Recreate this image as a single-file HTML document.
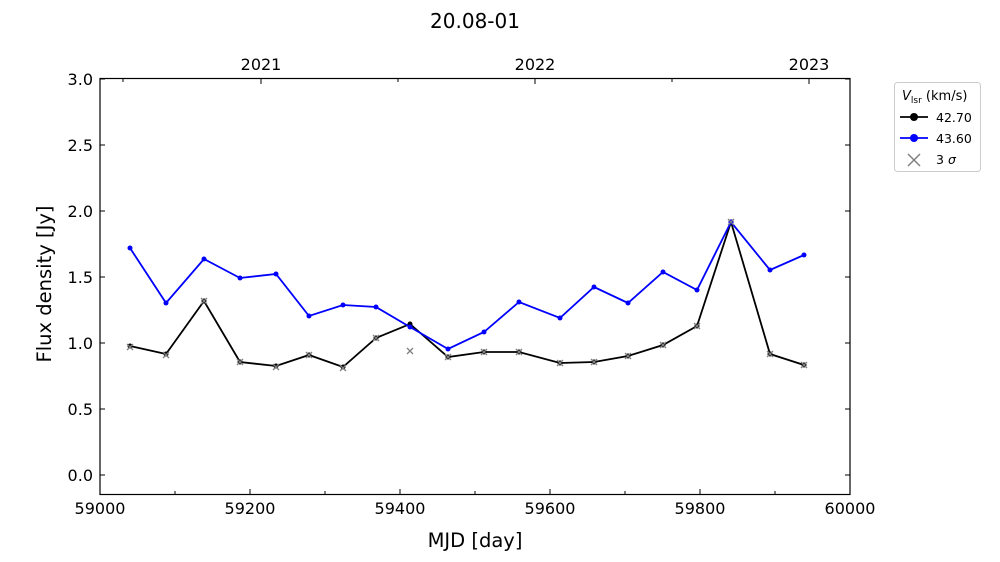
<!DOCTYPE html>
<html><head><meta charset="utf-8"><style>body{margin:0;background:#fff}svg{display:block}</style></head><body>
<svg width="1000" height="562" xmlns="http://www.w3.org/2000/svg" font-family="'DejaVu Sans',sans-serif">
<rect width="1000" height="562" fill="#fff"/>
<text x="475" y="28" font-size="20" text-anchor="middle">20.08-01</text>
<rect x="100" y="78.5" width="750" height="416" fill="none" stroke="#000" stroke-width="1.2"/>
<g stroke="#000" stroke-width="1">
<path d="M250 494v-5M400 494v-5M550 494v-5M700 494v-5M175 494v-3M325 494v-3M475 494v-3M625 494v-3M775 494v-3"/>
<path d="M100 475h5M100 409h5M100 343h5M100 277h5M100 211h5M100 145h5M100 79h5M850 475h-5M850 409h-5M850 343h-5M850 277h-5M850 211h-5M850 145h-5M850 79h-5"/>
<path d="M261 79v5M535 79v5M809 79v5M123 79v3M398 79v3M672 79v3"/>
</g>
<g font-size="16" text-anchor="middle">
<text x="100" y="514">59000</text><text x="250" y="514">59200</text><text x="400" y="514">59400</text><text x="550" y="514">59600</text><text x="700" y="514">59800</text><text x="850" y="514">60000</text>
<text x="261" y="70">2021</text><text x="535" y="70">2022</text><text x="809" y="70">2023</text>
</g>
<g font-size="16" text-anchor="end">
<text x="93" y="481">0.0</text><text x="93" y="415">0.5</text><text x="93" y="349">1.0</text><text x="93" y="283">1.5</text><text x="93" y="217">2.0</text><text x="93" y="151">2.5</text><text x="93" y="85">3.0</text>
</g>
<text x="475" y="547" font-size="19.5" text-anchor="middle">MJD [day]</text>
<text transform="translate(51,284) rotate(-90)" font-size="19.5" text-anchor="middle">Flux density [Jy]</text>
<polyline fill="none" stroke="#000" stroke-width="1.8" points="130,346 166,354 204,301 240,362 276,366 309,355 343,367 376,338 410,324 448,357 484,352 519,352 560,363 594,362 628,356 663,345 697,326 731,222 770,354 804,365"/>
<g fill="#000"><circle cx="130" cy="346" r="2.5"/><circle cx="166" cy="354" r="2.5"/><circle cx="204" cy="301" r="2.5"/><circle cx="240" cy="362" r="2.5"/><circle cx="276" cy="366" r="2.5"/><circle cx="309" cy="355" r="2.5"/><circle cx="343" cy="367" r="2.5"/><circle cx="376" cy="338" r="2.5"/><circle cx="410" cy="324" r="2.5"/><circle cx="448" cy="357" r="2.5"/><circle cx="484" cy="352" r="2.5"/><circle cx="519" cy="352" r="2.5"/><circle cx="560" cy="363" r="2.5"/><circle cx="594" cy="362" r="2.5"/><circle cx="628" cy="356" r="2.5"/><circle cx="663" cy="345" r="2.5"/><circle cx="697" cy="326" r="2.5"/><circle cx="731" cy="222" r="2.5"/><circle cx="770" cy="354" r="2.5"/><circle cx="804" cy="365" r="2.5"/></g>
<polyline fill="none" stroke="#0000ff" stroke-width="1.8" points="130,248 166,303 204,259 240,278 276,274 309,316 343,305 376,307 410,327 448,349 484,332 519,302 560,318 594,287 628,303 663,272 697,290 731,222 770,270 804,255"/>
<g fill="#0000ff"><circle cx="130" cy="248" r="2.5"/><circle cx="166" cy="303" r="2.5"/><circle cx="204" cy="259" r="2.5"/><circle cx="240" cy="278" r="2.5"/><circle cx="276" cy="274" r="2.5"/><circle cx="309" cy="316" r="2.5"/><circle cx="343" cy="305" r="2.5"/><circle cx="376" cy="307" r="2.5"/><circle cx="410" cy="327" r="2.5"/><circle cx="448" cy="349" r="2.5"/><circle cx="484" cy="332" r="2.5"/><circle cx="519" cy="302" r="2.5"/><circle cx="560" cy="318" r="2.5"/><circle cx="594" cy="287" r="2.5"/><circle cx="628" cy="303" r="2.5"/><circle cx="663" cy="272" r="2.5"/><circle cx="697" cy="290" r="2.5"/><circle cx="731" cy="222" r="2.5"/><circle cx="770" cy="270" r="2.5"/><circle cx="804" cy="255" r="2.5"/></g>
<g stroke="#808080" stroke-width="1.3">
<path d="M407 348l6 6M413 348l-6 6"/>
<path d="M127 344l6 6M133 344l-6 6M163 352l6 6M169 352l-6 6M201 298l6 6M207 298l-6 6M237 359l6 6M243 359l-6 6M273 364l6 6M279 364l-6 6M306 352l6 6M312 352l-6 6M340 365l6 6M346 365l-6 6M373 335l6 6M379 335l-6 6M445 354l6 6M451 354l-6 6M481 349l6 6M487 349l-6 6M516 349l6 6M522 349l-6 6M557 360l6 6M563 360l-6 6M591 359l6 6M597 359l-6 6M625 353l6 6M631 353l-6 6M660 342l6 6M666 342l-6 6M694 323l6 6M700 323l-6 6M728 219l6 6M734 219l-6 6M767 351l6 6M773 351l-6 6M801 362l6 6M807 362l-6 6"/>
</g>
<rect x="894.5" y="82.5" width="86" height="89" rx="3" fill="#fff" stroke="#ccc"/>
<text x="902" y="100" font-size="13"><tspan font-style="italic">V</tspan><tspan font-size="9" dy="3">lsr</tspan><tspan dy="-3"> (km/s)</tspan></text>
<path d="M900 117h28" stroke="#000" stroke-width="1.8"/><circle cx="914" cy="117" r="4" fill="#000"/>
<text x="936" y="122" font-size="12.5">42.70</text>
<path d="M900 138h28" stroke="#0000ff" stroke-width="1.8"/><circle cx="914" cy="138" r="4" fill="#0000ff"/>
<text x="936" y="143" font-size="12.5">43.60</text>
<path d="M908 154l12 12M920 154l-12 12" stroke="#808080" stroke-width="1.5"/>
<text x="936" y="164" font-size="12.5">3 <tspan font-style="italic">σ</tspan></text>
</svg>
</body></html>
